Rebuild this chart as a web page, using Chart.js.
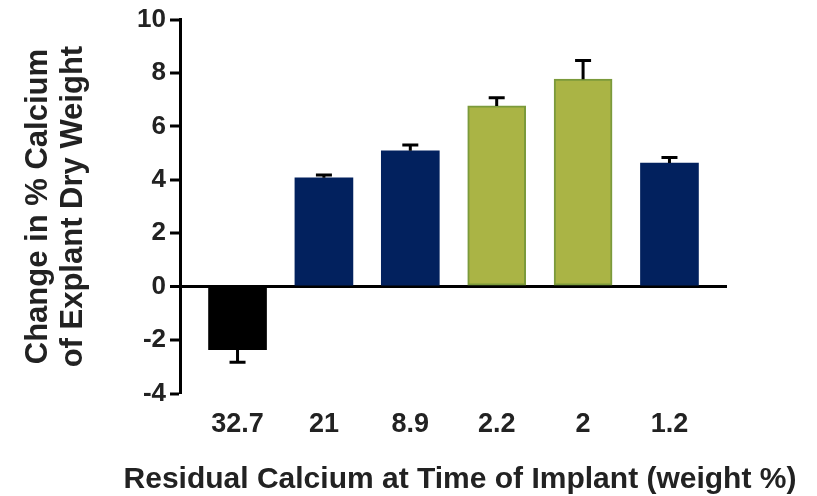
<!DOCTYPE html>
<html lang="en">
<head>
  <meta charset="UTF-8" />
  <title>Change in % Calcium</title>
  <script src="https://cdn.jsdelivr.net/npm/chart.js"></script>
  <style>
    html, body { margin: 0; padding: 0; background: #fff; }
    #wrap { width: 817px; height: 496px; }
  </style>
</head>
<body>
  <div id="wrap"><canvas id="grafico"></canvas></div>

  <script>
    const residualCalcium = ['32.7', '21', '8.9', '2.2', '2', '1.2'];
    const changeCalcium = [-2.36, 4.08, 5.09, 6.77, 7.77, 4.63];
    const errorCalcium = [0.47, 0.10, 0.22, 0.30, 0.70, 0.21];
    const yTicks = [-4, -2, 0, 2, 4, 6, 8, 10];
    const xTitle = 'Residual Calcium at Time of Implant (weight %)';

    const navy = '#02215e';
    const olive = '#aab445';
    const barColors = ['#000000', navy, navy, olive, olive, navy];
    const barBorders = ['#000000', navy, navy, '#7b9a3b', '#7b9a3b', navy];
    const barBorderW = [0, 0, 0, 2, 2, 0];

    const fontFam = 'Arial, "Liberation Sans", sans-serif';

    // barras de error (solo hacia fuera de la barra)
    const errorBars = {
      id: 'errorBars',
      afterDatasetsDraw(chart) {
        const { ctx, scales: { y } } = chart;
        const meta = chart.getDatasetMeta(0);
        ctx.save();
        ctx.strokeStyle = '#000';
        ctx.lineWidth = 3;
        meta.data.forEach((bar, i) => {
          const v = changeCalcium[i];
          const end = v < 0 ? v - errorCalcium[i] : v + errorCalcium[i];
          const y0 = y.getPixelForValue(v);
          const y1 = y.getPixelForValue(end);
          ctx.beginPath();
          ctx.moveTo(bar.x, y0);
          ctx.lineTo(bar.x, y1);
          ctx.moveTo(bar.x - 8, y1);
          ctx.lineTo(bar.x + 8, y1);
          ctx.stroke();
        });
        ctx.restore();
      }
    };

    // título del eje x, más ancho que el área del gráfico
    const xAxisTitle = {
      id: 'xAxisTitle',
      afterDraw(chart) {
        const { ctx } = chart;
        ctx.save();
        ctx.fillStyle = '#222';
        ctx.font = 'bold 30px ' + fontFam;
        ctx.textAlign = 'center';
        ctx.textBaseline = 'middle';
        ctx.fillText(xTitle, 460, 480);
        ctx.restore();
      }
    };

    const ctx = document.getElementById('grafico').getContext('2d');
    const chart = new Chart(ctx, {
      type: 'bar',
      data: {
        datasets: [{
          data: changeCalcium.map((v, i) => ({ x: i, y: v })),
          backgroundColor: barColors,
          borderColor: barBorders,
          borderWidth: barBorderW,
          borderSkipped: false,
          barThickness: 58
        }]
      },
      plugins: [errorBars, xAxisTitle],
      options: {
        responsive: true,
        maintainAspectRatio: false,
        animation: false,
        layout: { padding: { top: 17, right: 90, left: 0, bottom: 48 } },
        plugins: { legend: { display: false }, tooltip: { enabled: false } },
        scales: {
          x: {
            type: 'linear',
            offset: false,
            min: -0.666,
            max: 5.666,
            grid: { display: false },
            border: { display: false },
            afterBuildTicks: s => { s.ticks = residualCalcium.map((_, i) => ({ value: i })); },
            ticks: {
              padding: 7,
              autoSkip: false,
              maxRotation: 0,
              color: '#222',
              font: { family: fontFam, size: 27, weight: 'bold' },
              callback: v => residualCalcium[v]
            }
          },
          y: {
            min: -4,
            max: 10,
            z: 1,
            afterBuildTicks: s => { s.ticks = yTicks.map(v => ({ value: v })); },
            afterFit: s => { s.width = 180; },
            border: { display: true, color: '#000', width: 3 },
            grid: {
              drawOnChartArea: true,
              tickLength: 10,
              tickWidth: 3,
              tickColor: '#000',
              color: c => c.tick && c.tick.value === 0 ? '#000' : 'rgba(0,0,0,0)',
              lineWidth: c => c.tick && c.tick.value === 0 ? 3 : 0
            },
            ticks: {
              padding: 4,
              color: '#222',
              font: { family: fontFam, size: 26, weight: 'bold' }
            },
            title: {
              display: true,
              text: ['Change in % Calcium', 'of Explant Dry Weight'],
              color: '#222',
              padding: { top: 20, bottom: 0 },
              font: { family: fontFam, size: 31, weight: 'bold', lineHeight: 1.16 }
            }
          }
        }
      }
    });
  </script>
</body>
</html>
